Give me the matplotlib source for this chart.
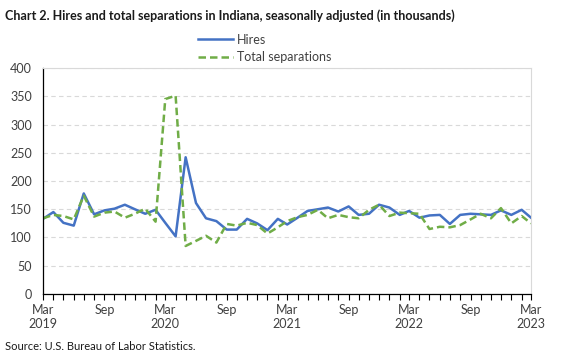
import pandas as pd
import matplotlib.pyplot as plt
import matplotlib.dates as mdates

months = pd.date_range('2019-03-01', '2023-03-01', freq='MS')

hires = [133, 145, 126, 121, 178, 141, 148, 151, 158, 150, 142, 149,
         126, 102, 242, 161, 134, 129, 114, 114, 133, 125, 113, 133,
         123, 135, 147, 150, 153, 146, 155, 140, 142, 158, 153, 140,
         147, 135, 139, 140, 124, 140, 142, 141, 140, 148, 140, 149, 135]

separations = [134, 140, 138, 132, 174, 137, 144, 146, 135, 142, 151, 128,
               345, 351, 85, 94, 103, 91, 124, 121, 126, 122, 107, 118,
               129, 136, 140, 149, 134, 140, 136, 134, 149, 158, 138, 144,
               143, 142, 115, 119, 118, 122, 132, 142, 134, 152, 125, 138, 125]

plt.rcParams['font.family'] = ['Lato', 'DejaVu Sans']

fig = plt.figure(figsize=(5.63, 3.57), dpi=100)
ax = fig.add_axes([0.0764, 0.1765, 0.8668, 0.633])

ax.plot(months, hires, color='#4472C4', lw=1.8, label='Hires')
ax.plot(months, separations, color='#70AD47', lw=1.8, ls=(0, (3, 1.6)), label='Total separations')

ax.set_ylim(0, 400)
ax.set_yticks(range(0, 401, 50))
ax.set_xlim(months[0], months[-1])
ax.grid(axis='y', color='#D9D9D9', ls=(0, (4, 3)), lw=0.8)
ax.set_axisbelow(True)

ax.xaxis.set_major_locator(mdates.MonthLocator(bymonth=[3, 9]))
ax.xaxis.set_minor_locator(mdates.MonthLocator())
labels = []
for d in mdates.num2date(ax.get_xticks()):
    if d.month == 3:
        labels.append('Mar\n' + str(d.year))
    else:
        labels.append('Sep')
ax.set_xticks(ax.get_xticks())
ax.set_xticklabels(labels)
ax.tick_params(axis='x', which='both', length=4, width=0.8, colors='black', labelcolor='#404040', labelsize=9)
ax.tick_params(axis='y', length=0, labelcolor='#404040', labelsize=9, pad=8)

for s in ['top', 'right']:
    ax.spines[s].set_color('#D9D9D9')
for s in ['left', 'bottom']:
    ax.spines[s].set_color('black')
    ax.spines[s].set_linewidth(0.9)

fig.text(0.009, 0.955, 'Chart 2. Hires and total separations in Indiana, seasonally adjusted (in thousands)',
         fontsize=9, fontweight='bold', va='center', ha='left', color='#1a1a1a')
fig.legend(loc='center', bbox_to_anchor=(0.47, 0.864), frameon=False, fontsize=9,
           handlelength=2.8, labelspacing=0.45, handletextpad=0.3, labelcolor='#404040')
fig.text(0.009, 0.03, 'Source: U.S. Bureau of Labor Statistics.', fontsize=8, va='center', ha='left', color='#1a1a1a')

fig.savefig('out.png', dpi=100)
